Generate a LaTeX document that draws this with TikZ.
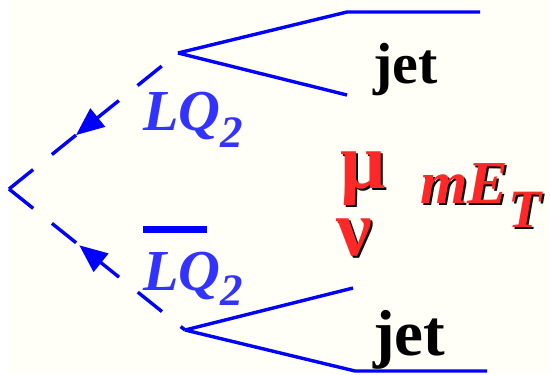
\documentclass[tikz,border=0pt]{standalone}
\usepackage{fontspec}
\setmainfont{Liberation Serif}
\usetikzlibrary{arrows.meta,calc}
\definecolor{cream}{RGB}{255,255,247}
\definecolor{lqblue}{RGB}{51,51,255}
\definecolor{hotred}{RGB}{255,40,40}
% red label with a black drop shadow
\newcommand{\shd}[1]{\rlap{\kern2pt\raisebox{-2pt}{\color{black}#1}}#1}
\newcommand{\lblfont}{\fontsize{58}{60}\selectfont\bfseries\itshape}

\begin{document}
\begin{tikzpicture}[x=1pt, y=-1pt, >={Triangle[length=28pt,width=23pt]},
  ln/.style={draw=blue, line width=3.4pt},
  dsh/.style={ln, dash pattern=on 31pt off 24pt},
  tip/.style={ln, ->},
  t/.style={inner sep=0pt, anchor=base west}]
\useasboundingbox (0,0) rectangle (550,375);
\fill[cream] (9,0) rectangle (550,374);
% vertices
\coordinate (v) at (9,189);
\coordinate (ta) at (178,53);
\coordinate (tb) at (185,330);
\coordinate (ja1) at (347,12);  \coordinate (ja2) at (480,12);
\coordinate (ja3) at (347,95);
\coordinate (jb1) at (353,288);
\coordinate (jb2) at (355,371); \coordinate (jb3) at (487,371);
% leptoquark lines
\draw[dsh] (v) -- (ta);
\draw[dsh] (v) -- (tb);
\draw[tip] ($(v)!114pt!(ta)$) -- ($(v)!86pt!(ta)$);
\draw[tip] ($(v)!118pt!(tb)$) -- ($(v)!90pt!(tb)$);
% jets
\draw[ln] (ta) -- (ja1) -- (ja2);
\draw[ln] (ta) -- (ja3);
\draw[ln] (tb) -- (jb1);
\draw[ln] (tb) -- (jb2) -- (jb3);
% labels
\node[t, text=lqblue] (lqa) at (143,130) {\lblfont LQ\raisebox{-17pt}{\fontsize{45}{45}\selectfont 2}};
\node[t, text=lqblue] (lqb) at (143,290) {\lblfont LQ\raisebox{-15pt}{\fontsize{45}{45}\selectfont 2}};
\draw[draw=blue, line width=7pt] (143,229.5) -- (207,229.5);
\node[t] (jeta) at (373,83) {\fontsize{58}{60}\selectfont\bfseries jet};
\node[t] (jetb) at (373,355) {\fontsize{65}{66}\selectfont\bfseries jet};
\node[t, text=hotred] (mu) at (340,188) {\fontsize{80}{80}\selectfont\bfseries\shd{μ}};
\node[t, text=hotred] (nu) at (336,255) {\fontsize{80}{80}\selectfont\bfseries\shd{ν}};
\node[t, text=hotred] (met) at (420,203) {\fontsize{61}{61}\selectfont\bfseries\itshape\shd{mE}\raisebox{-24pt}{\fontsize{54}{54}\selectfont\shd{T}}};
\end{tikzpicture}
\end{document}
